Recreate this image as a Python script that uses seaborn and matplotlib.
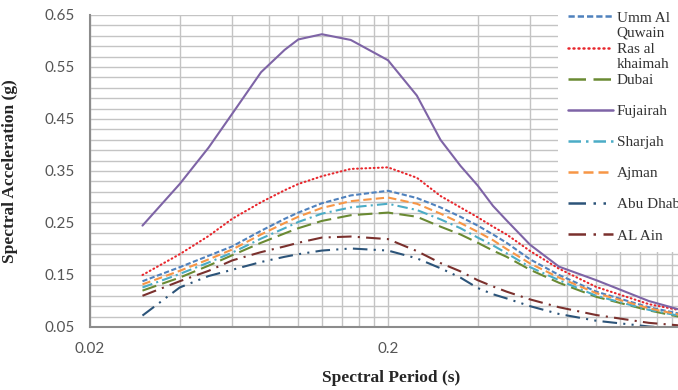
import numpy as np
import pandas as pd
import matplotlib
matplotlib.use("Agg")
import matplotlib.pyplot as plt
import matplotlib.ticker as mticker
from matplotlib.transforms import IdentityTransform
import seaborn as sns

# spectral periods (s)
periods = [0.03, 0.04, 0.05, 0.06, 0.075, 0.09, 0.1, 0.12, 0.15, 0.2, 0.25,
           0.3, 0.35, 0.4, 0.45, 0.5, 0.6, 0.75, 1.0, 1.5, 2.0]

# spectral acceleration (g)
umm_al_quwain = [0.138, 0.165, 0.187, 0.205, 0.235, 0.258, 0.270, 0.288, 0.303, 0.312, 0.298,
                 0.280, 0.262, 0.245, 0.228, 0.212, 0.180, 0.150, 0.118, 0.088, 0.073]
ras_al_khaimah = [0.150, 0.190, 0.225, 0.258, 0.290, 0.313, 0.325, 0.340, 0.354, 0.357, 0.337,
                  0.302, 0.280, 0.261, 0.243, 0.228, 0.196, 0.162, 0.127, 0.094, 0.080]
dubai = [0.120, 0.145, 0.168, 0.188, 0.212, 0.230, 0.240, 0.254, 0.265, 0.270, 0.262,
         0.243, 0.228, 0.212, 0.197, 0.185, 0.160, 0.135, 0.108, 0.082, 0.067]
fujairah = [0.245, 0.325, 0.395, 0.460, 0.540, 0.583, 0.603, 0.613, 0.602, 0.563, 0.495,
            0.410, 0.360, 0.322, 0.283, 0.255, 0.208, 0.166, 0.140, 0.100, 0.080]
sharjah = [0.126, 0.152, 0.174, 0.193, 0.220, 0.240, 0.252, 0.268, 0.280, 0.287, 0.275,
           0.257, 0.240, 0.222, 0.207, 0.192, 0.165, 0.140, 0.110, 0.083, 0.069]
ajman = [0.132, 0.158, 0.180, 0.199, 0.228, 0.250, 0.262, 0.279, 0.292, 0.299, 0.287,
         0.268, 0.250, 0.233, 0.217, 0.200, 0.172, 0.145, 0.115, 0.086, 0.071]
abu_dhabi = [0.072, 0.126, 0.148, 0.160, 0.175, 0.185, 0.190, 0.197, 0.201, 0.197, 0.182,
             0.163, 0.145, 0.125, 0.113, 0.105, 0.090, 0.075, 0.062, 0.051, 0.046]
al_ain = [0.110, 0.138, 0.158, 0.178, 0.194, 0.205, 0.212, 0.222, 0.224, 0.219, 0.196,
          0.173, 0.157, 0.140, 0.128, 0.118, 0.103, 0.088, 0.073, 0.058, 0.052]

cities = ["Umm Al Quwain", "Ras al khaimah", "Dubai", "Fujairah",
          "Sharjah", "Ajman", "Abu Dhabi", "AL Ain"]
# legend text as wrapped in the original (first line, second line)
legend_first = ["Umm Al", "Ras al", "Dubai", "Fujairah", "Sharjah", "Ajman", "Abu Dhabi", "AL Ain"]
legend_second = ["Quwain", "khaimah", "", "", "", "", "", ""]
series = [umm_al_quwain, ras_al_khaimah, dubai, fujairah, sharjah, ajman, abu_dhabi, al_ain]

colors = ["#4F81BD", "#E8262C", "#6A8A33", "#7E64A6",
          "#4BACC6", "#F79646", "#2C5479", "#7A302D"]
dash_styles = [(2.5, 1.2), (0.4, 1.6), (7, 3), "",
               (5, 2, 1, 2), (4, 2), (7, 3, 1, 3, 1, 3), (7, 3, 1, 3)]

df = pd.DataFrame({
    "period": periods * len(cities),
    "sa": [v for s in series for v in s],
    "city": [c for c in cities for _ in periods],
})

sns.set_style("white")
plt.rcParams["font.family"] = ["Liberation Serif", "DejaVu Serif"]

fig = plt.figure(figsize=(6.78, 3.90), dpi=100)
ax = fig.add_axes([90 / 678, 63 / 390, 596 / 678, 312 / 390])

sns.lineplot(data=df, x="period", y="sa", hue="city", style="city",
             hue_order=cities, style_order=cities,
             palette=dict(zip(cities, colors)), dashes=dict(zip(cities, dash_styles)),
             linewidth=1.5, sort=False, ax=ax, legend=True)

# dotted red line: round dots
for line in ax.lines:
    if line.get_color() == colors[1]:
        line.set_dash_capstyle("round")

ax.set_xscale("log")
ax.set_xlim(0.02, 2)
ax.set_ylim(0.05, 0.65)

ax.set_xticks([0.02, 0.2])
ax.set_xticklabels(["0.02", "0.2"])
minor_x = [0.02 * k for k in range(2, 10)] + [0.2 * k for k in range(2, 10)]
ax.xaxis.set_minor_locator(mticker.FixedLocator(minor_x))
ax.xaxis.set_minor_formatter(mticker.NullFormatter())
ax.set_yticks(np.arange(0.05, 0.66, 0.1))
ax.yaxis.set_major_formatter(mticker.FormatStrFormatter("%.2f"))
ax.yaxis.set_minor_locator(mticker.MultipleLocator(0.02, offset=0.01))

ax.grid(True, which="both", color="#C4C4C4", linewidth=1.0)
ax.set_axisbelow(True)
for side in ["top", "right"]:
    ax.spines[side].set_visible(False)
for side in ["left", "bottom"]:
    ax.spines[side].set_color("#8C8C8C")
    ax.spines[side].set_linewidth(1.5)

ax.tick_params(which="major", length=5, width=1.2, color="#8C8C8C",
               labelsize=11, labelcolor="#555555", pad=6)
ax.tick_params(which="minor", length=0)
for lbl in ax.get_xticklabels() + ax.get_yticklabels():
    lbl.set_fontfamily("Lato")

ax.set_xlabel("Spectral Period (s)", fontsize=12.5, fontweight="bold")
ax.set_ylabel("Spectral Acceleration (g)", fontsize=12.5, fontweight="bold")
ax.xaxis.set_label_coords(0.505, -0.137)
ax.yaxis.set_label_coords(-0.12, 0.5)

handles, labels = ax.get_legend_handles_labels()
leg = ax.legend(handles, legend_first, loc="upper left", bbox_to_anchor=(0.786, 1.042),
                frameon=True, facecolor="white", edgecolor="none", framealpha=1,
                fontsize=11, handlelength=3.0, handletextpad=0.2,
                labelspacing=1.14, borderpad=0.6, borderaxespad=0)
for t in leg.get_texts():
    t.set_color("#333333")
for h in leg.get_lines():
    h.set_linewidth(1.8)

# wrapped second lines of the long legend labels, placed under their first line
fig.canvas.draw()
for t, extra in zip(leg.get_texts(), legend_second):
    if extra:
        bb = t.get_window_extent()
        fig.text(bb.x0, bb.y0 - 2, extra, transform=IdentityTransform(),
                 ha="left", va="top", fontsize=11, color="#333333", zorder=10)

fig.savefig("out.png", dpi=100)
